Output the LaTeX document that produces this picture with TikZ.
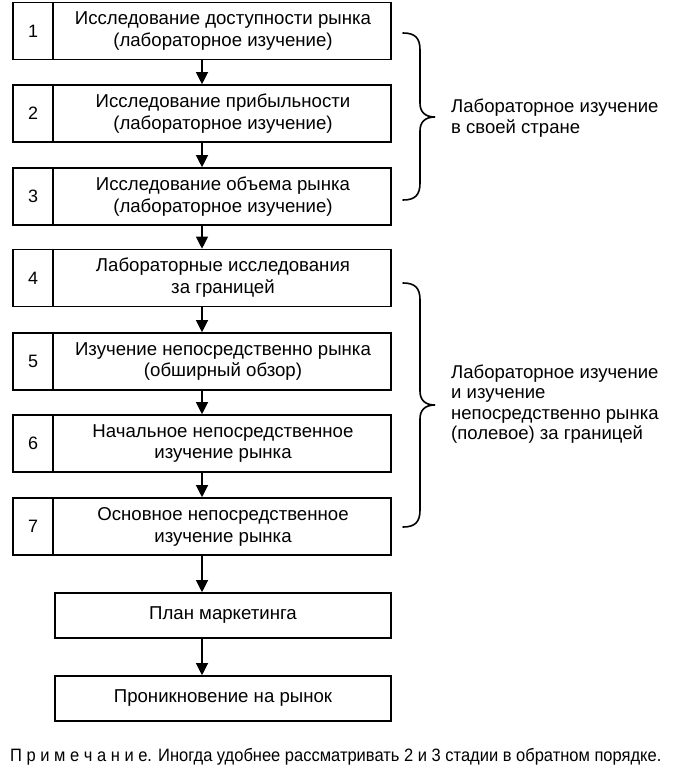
\documentclass[tikz,border=0pt]{standalone}
\usepackage{fontspec}
\setmainfont{Liberation Sans}
\newfontfamily\narrowfont[FakeStretch=0.92]{Liberation Sans}
\usetikzlibrary{calc,arrows.meta}
\begin{document}
\begin{tikzpicture}[x=1bp,y=-1bp,
  box/.style={draw,line width=1.6bp,inner sep=0pt,minimum width=378bp,minimum height=57bp},
  wbox/.style={draw,line width=1.6bp,inner sep=0pt,minimum width=336bp,minimum height=45bp},
  num/.style={font=\fontsize{18}{22}\selectfont},
  txt/.style={align=center,font=\fontsize{18.7}{22}\selectfont,inner sep=0pt},
  side/.style={align=left,anchor=west,font=\fontsize{18.6}{20.5}\selectfont,inner sep=0pt},
  arr/.style={line width=1.2bp,-{Triangle[length=12bp,width=12bp]}},
  brace/.style={line width=1.6bp,line cap=round},
  divider/.style={line width=1.4bp}]
\useasboundingbox (0,0) rectangle (676,775);
\foreach \i/\y/\t in {1/31/{Исследование доступности рынка\\(лабораторное изучение)},
  2/113.5/{Исследование прибыльности\\(лабораторное изучение)},
  3/196.5/{Исследование объема рынка\\(лабораторное изучение)},
  4/278/{Лабораторные исследования\\за границей},
  5/361.5/{Изучение непосредственно рынка\\(обширный обзор)},
  6/443.5/{Начальное непосредственное\\изучение рынка},
  7/526.5/{Основное непосредственное\\изучение рынка}}{
  \node[box] (b\i) at (202,\y) {};
  \node[num] (n\i) at (33,\y) {\i};
  \node[txt] (t\i) at (223,\y) {\t};
  \draw[divider] ($(b\i.north west)+(41bp,0)$) -- ($(b\i.south west)+(41bp,0)$);
}
\node[wbox] (plan) at (223,615.5) {};
\node[txt] (tplan) at (223,615.5) {План маркетинга};
\node[wbox] (pen) at (223,698.5) {};
\node[txt] (tpen) at (223,698.5) {Проникновение на рынок};
\foreach \a/\b in {b1/b2,b2/b3,b3/b4,b4/b5,b5/b6,b6/b7}{
  \draw[arr] (\a.south) -- (\b.north);
}
\draw[arr] (b7.south) -- (b7.south |- plan.north);
\draw[arr] (b7.south |- plan.south) -- (b7.south |- pen.north);
% braces
\coordinate (ba1) at (403,33);
\coordinate (bm1) at (435,117);
\coordinate (bb1) at (403,200);
\draw[brace] (ba1) .. controls (415,33) and (420,38) .. (420,50) -- (420,103)
  .. controls (420,112) and (425,117) .. (bm1)
  .. controls (425,117) and (420,122) .. (420,131) -- (420,183)
  .. controls (420,195) and (415,200) .. (bb1);
\coordinate (ba2) at (403,283);
\coordinate (bm2) at (435,405);
\coordinate (bb2) at (403,527);
\draw[brace] (ba2) .. controls (415,283) and (420,288) .. (420,300) -- (420,391)
  .. controls (420,400) and (425,405) .. (bm2)
  .. controls (425,405) and (420,410) .. (420,419) -- (420,510)
  .. controls (420,522) and (415,527) .. (bb2);
\node[side] (s1) at (451,118) {Лабораторное изучение\\в своей стране};
\node[side] (s2) at (451,404) {Лабораторное изучение\\и изучение\\непосредственно рынка\\(полевое) за границей};
\node[anchor=west,inner sep=0pt,font=\narrowfont\fontsize{18}{21}\selectfont] (note) at (10,757)
  {П р и м е ч а н и е. Иногда удобнее рассматривать 2 и 3 стадии в обратном порядке.};
\end{tikzpicture}
\end{document}
